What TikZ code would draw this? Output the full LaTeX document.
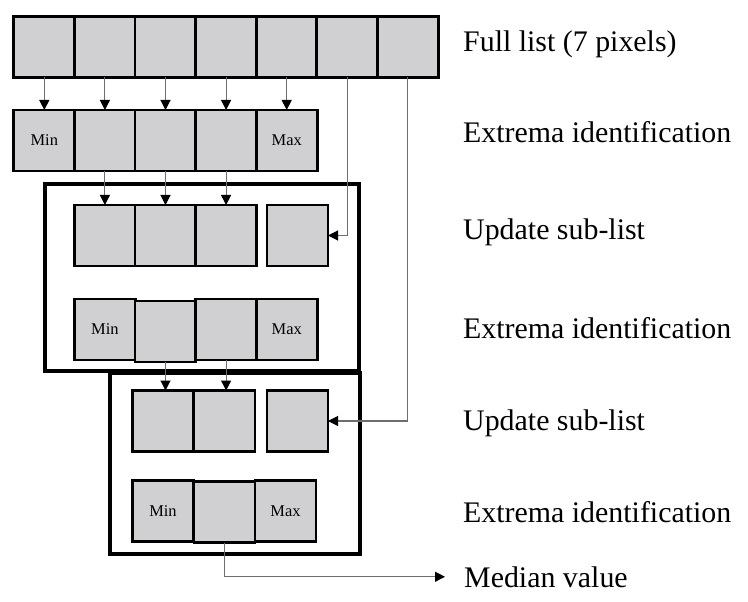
\documentclass[tikz,border=0pt]{standalone}
\usepackage{fontspec}
\setmainfont{Liberation Serif}
\usetikzlibrary{arrows.meta}
\definecolor{cellgray}{RGB}{208,207,210}
\definecolor{conncol}{RGB}{110,110,110}
\tikzset{
  cell/.style={draw=black, line width=2.8bp, fill=cellgray, minimum width=61bp, minimum height=61bp,
    inner sep=0pt, outer sep=0pt, font=\fontsize{16.5pt}{18pt}\selectfont},
  frame/.style={draw=black, line width=4bp},
  conn/.style={draw=conncol, line width=1.1bp, -{Triangle[length=10bp,width=10bp,black]}},
  lab/.style={anchor=base west, inner sep=0pt, font=\fontsize{30pt}{36pt}\selectfont}
}
\begin{document}
\begin{tikzpicture}[x=1bp, y=-1bp]
\useasboundingbox (0,0) rectangle (748,602);
% frames
\draw[frame] (45,184) rectangle (359,371);
\draw[frame] (110,373) rectangle (360,554);
% row 1
\node[cell] (r1c1) at (44.3,47) {};
\node[cell] (r1c2) at (104.9,47) {};
\node[cell] (r1c3) at (165.5,47) {};
\node[cell] (r1c4) at (226.1,47) {};
\node[cell] (r1c5) at (286.7,47) {};
\node[cell] (r1c6) at (347.3,47) {};
\node[cell] (r1c7) at (407.9,47) {};
% row 2
\node[cell] (r2c1) at (44.3,140.5) {Min};
\node[cell] (r2c2) at (104.9,140.5) {};
\node[cell] (r2c3) at (165.5,140.5) {};
\node[cell] (r2c4) at (226.1,140.5) {};
\node[cell] (r2c5) at (286.7,140.5) {Max};
% row 3
\node[cell] (r3c1) at (104.9,235.5) {};
\node[cell] (r3c2) at (165.5,235.5) {};
\node[cell] (r3c3) at (226.1,235.5) {};
\node[cell] (r3e) at (297.5,235.5) {};
% row 4
\node[cell] (r4c1) at (104.9,329.5) {Min};
\node[cell] (r4c2) at (165.5,331.5) {};
\node[cell] (r4c3) at (226.1,329.5) {};
\node[cell] (r4c4) at (286.7,329.5) {Max};
% row 5
\node[cell] (r5c1) at (163,421) {};
\node[cell] (r5c2) at (224.5,421) {};
\node[cell] (r5e) at (297.5,421) {};
% row 6
\node[cell] (r6c1) at (163,511) {Min};
\node[cell] (r6c2) at (224.5,512) {};
\node[cell] (r6c3) at (285.5,511) {Max};
% labels
\node[lab] (l1) at (463,52) {Full list (7 pixels)};
\node[lab] (l2) at (463,143) {Extrema identification};
\node[lab] (l3) at (463,239) {Update sub-list};
\node[lab] (l4) at (463,338) {Extrema identification};
\node[lab] (l5) at (463,430) {Update sub-list};
\node[lab] (l6) at (463,522) {Extrema identification};
\node[lab, inner xsep=19bp] (median) at (445,587) {Median value};
% connectors
\draw[conn] (r1c1.south) -- (r2c1.north);
\draw[conn] (r1c2.south) -- (r2c2.north);
\draw[conn] (r1c3.south) -- (r2c3.north);
\draw[conn] (r1c4.south) -- (r2c4.north);
\draw[conn] (r1c5.south) -- (r2c5.north);
\draw[conn] (r2c2.south) -- (r3c1.north);
\draw[conn] (r2c3.south) -- (r3c2.north);
\draw[conn] (r2c4.south) -- (r3c3.north);
\draw[conn] (r1c6.south) |- (r3e.east);
\draw[conn] (r4c2.south) -- (r4c2.south |- r5c1.north);
\draw[conn] (r4c3.south) -- (r4c3.south |- r5c2.north);
\draw[conn] (r1c7.south) |- (r5e.east);
\draw[conn] (r6c2.south) |- (median.west);
\end{tikzpicture}
\end{document}
